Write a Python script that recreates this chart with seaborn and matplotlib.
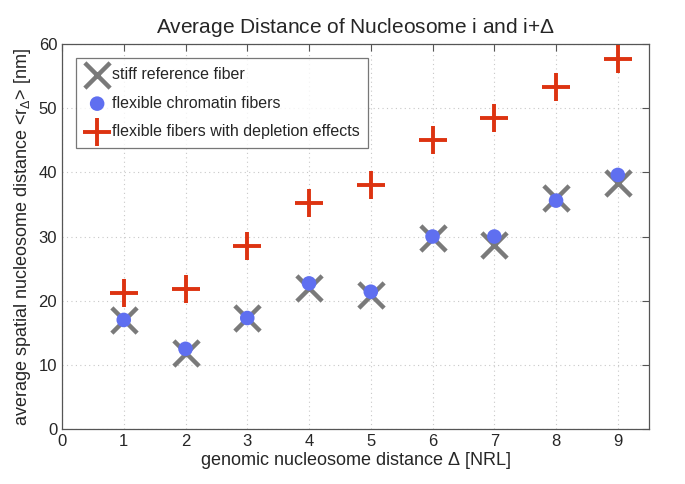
import numpy as np
import pandas as pd
import matplotlib
matplotlib.use("Agg")
import matplotlib.pyplot as plt
import seaborn as sns

# values
delta = [1, 2, 3, 4, 5, 6, 7, 8, 9]
stiff = [17.0, 11.9, 17.3, 22.0, 20.9, 29.8, 28.7, 36.0, 38.3]
flexible = [17.0, 12.5, 17.3, 22.7, 21.4, 30.0, 30.0, 35.6, 39.6]
depletion = [21.2, 21.8, 28.5, 35.2, 38.1, 45.0, 48.4, 53.3, 57.6]

df = pd.DataFrame({"delta": delta, "stiff": stiff,
                   "flexible": flexible, "depletion": depletion})

sns.set_style("white")
plt.rcParams['font.family'] = ['Liberation Sans', 'DejaVu Sans']
plt.rcParams['mathtext.fontset'] = 'custom'
plt.rcParams['mathtext.rm'] = 'Liberation Sans'
plt.rcParams['mathtext.it'] = 'Liberation Sans'

fig = plt.figure(figsize=(6.85, 4.84), dpi=100)
ax = fig.add_axes([0.0905, 0.1136, 0.8565, 0.7954])

sns.scatterplot(x="delta", y="stiff", data=df, ax=ax, marker="x", s=330,
                color="#7a7a7a", linewidth=3.2, label="stiff reference fiber", zorder=3)
sns.scatterplot(x="delta", y="flexible", data=df, ax=ax, marker="o", s=110,
                color="#5f6ff0", edgecolor="none", label="flexible chromatin fibers", zorder=4)
sns.scatterplot(x="delta", y="depletion", data=df, ax=ax, marker="+", s=420,
                color="#dd3311", linewidth=2.8, label="flexible fibers with depletion effects", zorder=5)

ax.set_xlim(0, 9.5)
ax.set_ylim(0, 60)
ax.set_xticks(range(0, 10))
ax.set_yticks(range(0, 61, 10))
ax.grid(True, linestyle=(0, (1, 3)), color="#c8c8c8", linewidth=0.8)
ax.tick_params(direction="in", top=True, right=True, length=5, labelsize=12,
               color="#555555", width=0.8)
for sp in ax.spines.values():
    sp.set_color("#555555")
    sp.set_linewidth(0.9)

ax.set_title(r"Average Distance of Nucleosome i and i+$\Delta$", fontsize=15, pad=8)
ax.set_xlabel(r"genomic nucleosome distance $\Delta$ [NRL]", fontsize=13, labelpad=1)
ax.set_ylabel(r"average spatial nucleosome distance <r$_\Delta$> [nm]", fontsize=13, labelpad=4)

leg = ax.legend(loc="upper left", bbox_to_anchor=(0.015, 0.975), fontsize=11.5,
                frameon=True, fancybox=False, borderpad=0.55, handletextpad=0.1,
                labelspacing=0.85, handlelength=1.6, borderaxespad=0.3)
leg.get_frame().set_edgecolor("#555555")
leg.get_frame().set_linewidth(0.9)

fig.savefig("out.png", dpi=100)
